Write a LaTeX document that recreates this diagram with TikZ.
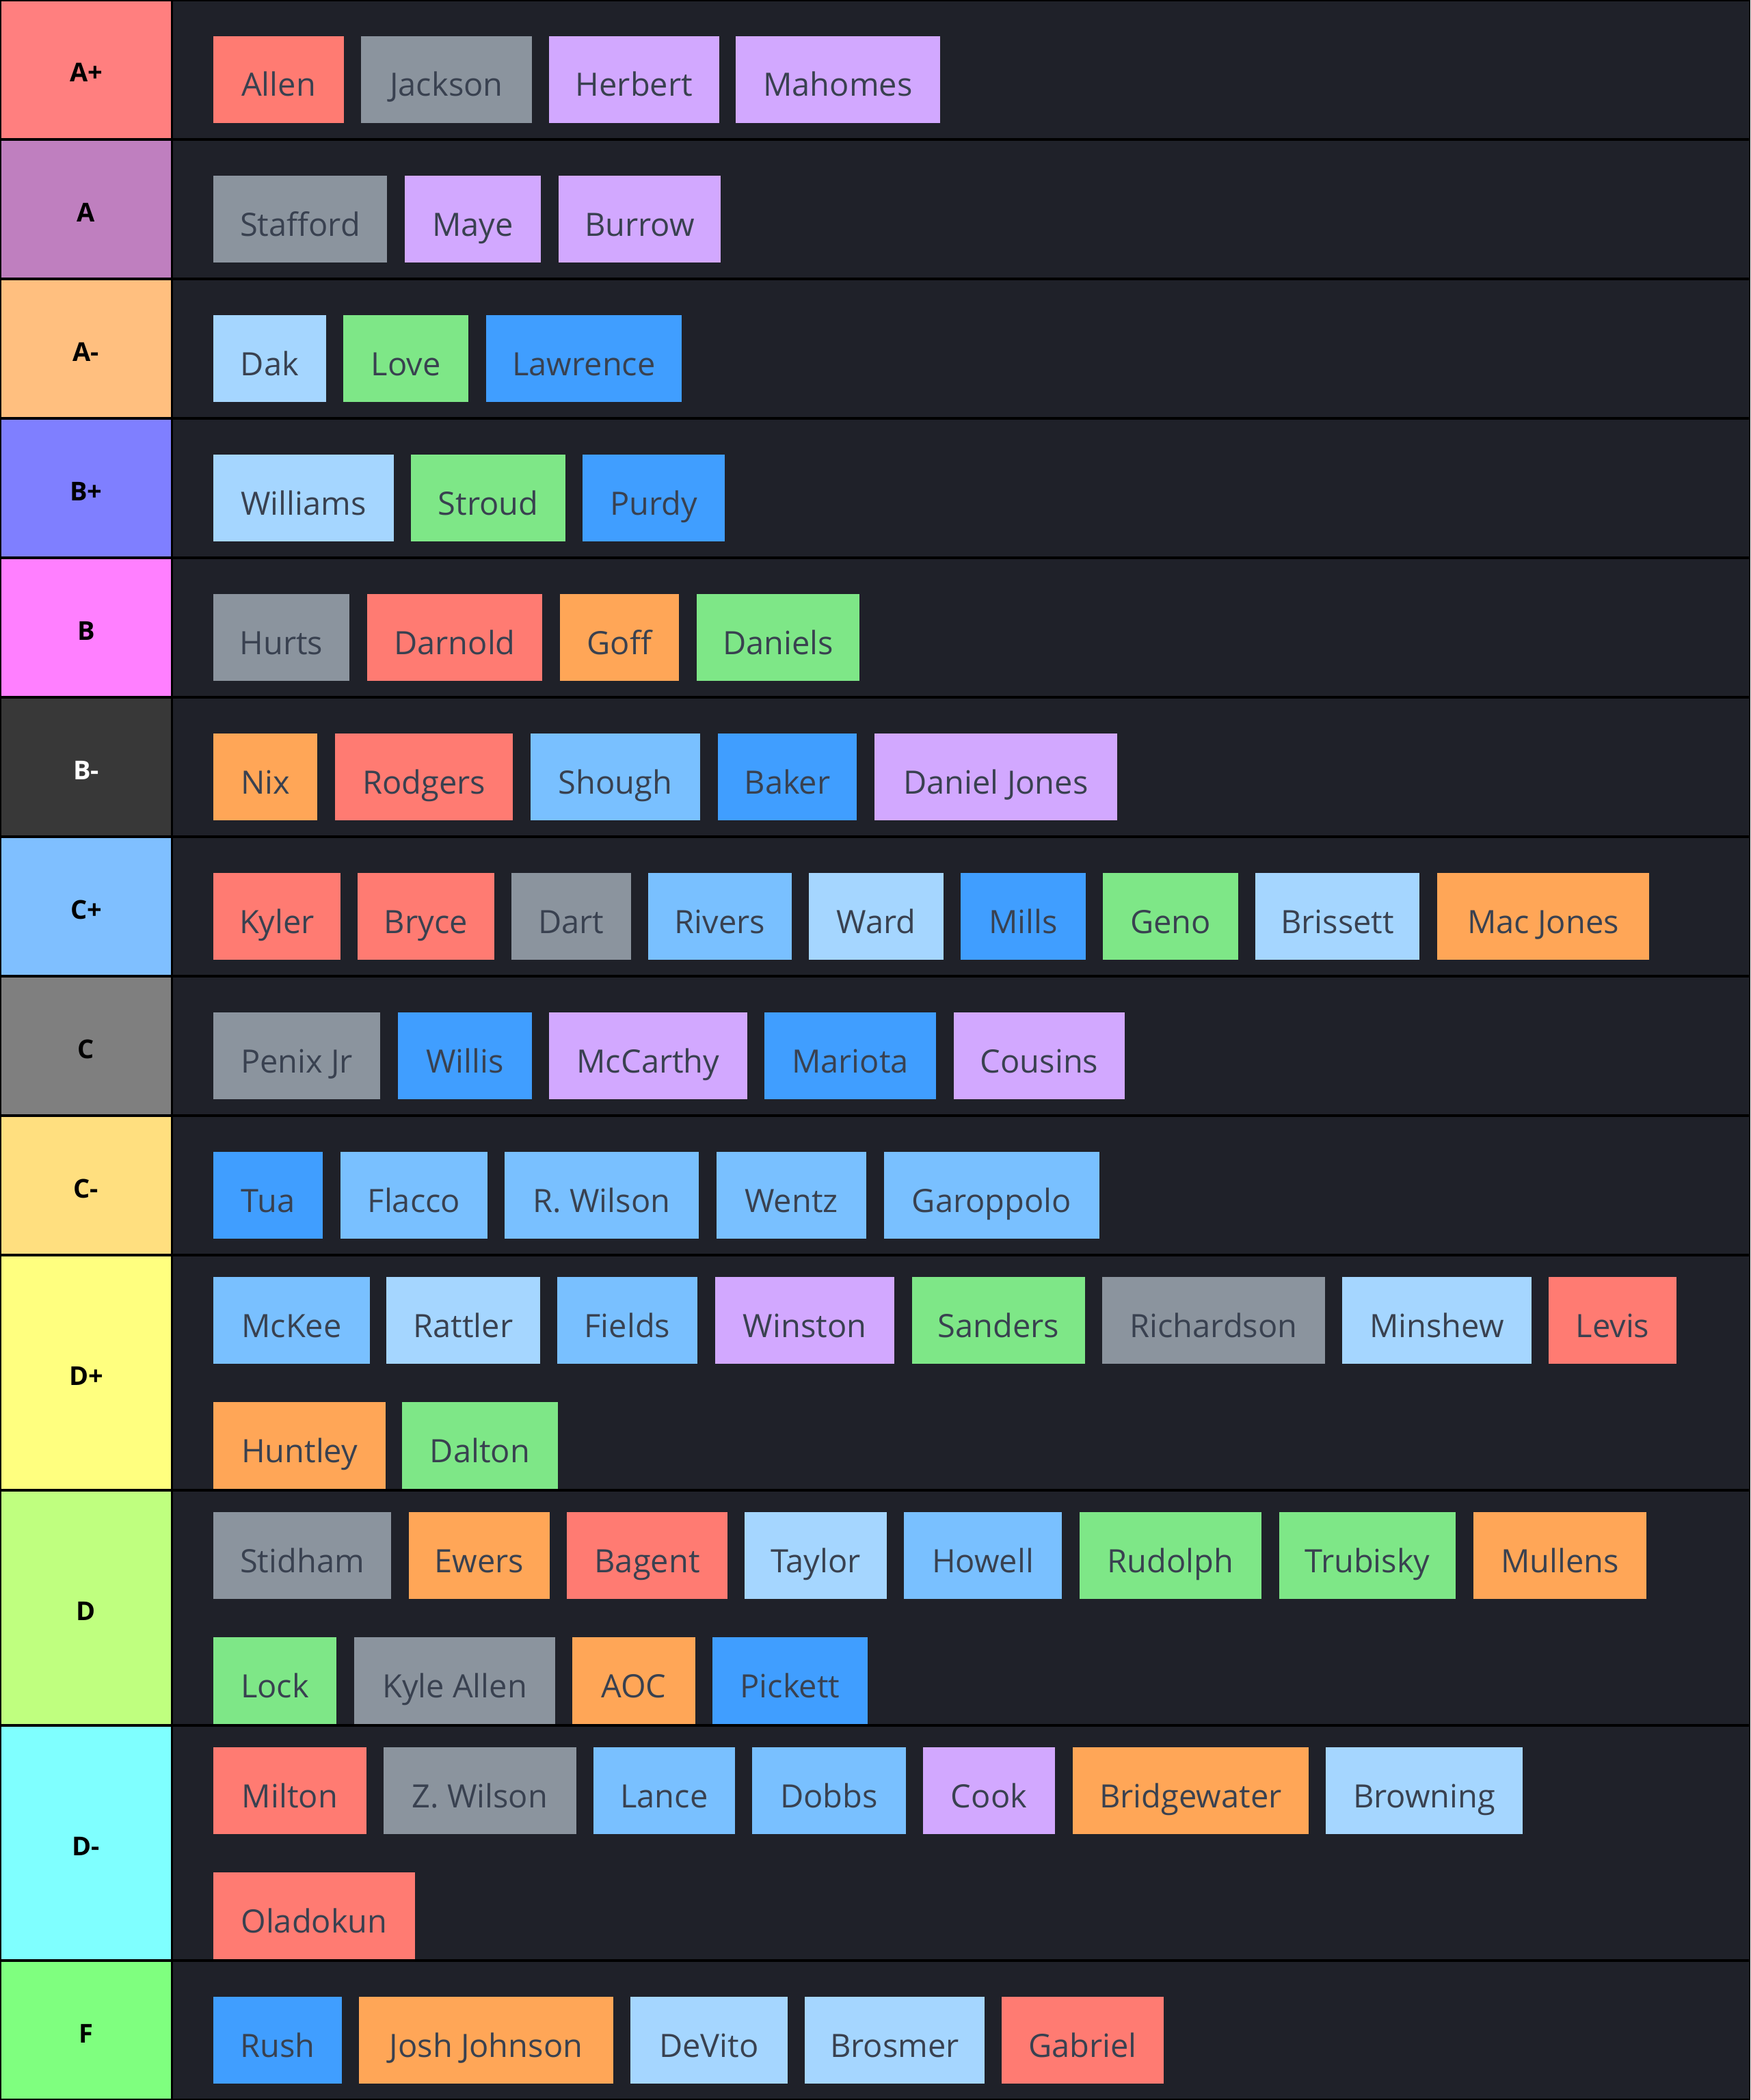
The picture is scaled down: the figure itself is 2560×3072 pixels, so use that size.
\documentclass[tikz,border=0pt]{standalone}
\usepackage{fontspec}
\setmainfont{Open Sans}
\newfontfamily\chipfamily{Open Sans}
\newfontfamily\labfamily{Open Sans}
\definecolor{bgdark}{HTML}{1F2129}
\definecolor{chiptxt}{HTML}{394150}
\definecolor{cred}{HTML}{FF7B72}
\definecolor{cgray}{HTML}{8B949E}
\definecolor{clav}{HTML}{D2A8FF}
\definecolor{clb}{HTML}{A5D6FF}
\definecolor{cmb}{HTML}{79C0FF}
\definecolor{cblue}{HTML}{409EFF}
\definecolor{cgreen}{HTML}{7EE787}
\definecolor{corange}{HTML}{FFA657}
\definecolor{lApl}{HTML}{FF7F7F}
\definecolor{lA}{HTML}{BF7FBF}
\definecolor{lAmi}{HTML}{FFBF7F}
\definecolor{lBpl}{HTML}{7F7FFF}
\definecolor{lB}{HTML}{FF7FFF}
\definecolor{lBmi}{HTML}{383838}
\definecolor{lCpl}{HTML}{7FBFFF}
\definecolor{lC}{HTML}{7F7F7F}
\definecolor{lCmi}{HTML}{FFDF7F}
\definecolor{lDpl}{HTML}{FFFF7F}
\definecolor{lD}{HTML}{BFFF7F}
\definecolor{lDmi}{HTML}{7FFFFF}
\definecolor{lF}{HTML}{7FFF7F}
\tikzset{
  chipbox/.style={inner sep=0pt, outer sep=0pt, draw=none, minimum height=127pt,
    text height=60pt, text depth=11pt, anchor=north west, text=chiptxt,
    font=\chipfamily\fontsize{47}{56}\selectfont},
  tierlabel/.style={inner sep=0pt, anchor=base,
    font=\labfamily\bfseries\fontsize{38}{46}\selectfont},
}
% name, x1, x2, top, colour, text
\newcommand{\chip}[6]{%
  \pgfmathsetmacro{\chw}{#3-#2}%
  \node[chipbox, fill=#5, minimum width=\chw pt] (#1) at (#2,#4) {#6};}
% name, top, height, label colour, label text colour, label
\newcommand{\tierrow}[6]{%
  \pgfmathsetmacro{\rbot}{#2+#3-2}%
  \pgfmathsetmacro{\rtop}{#2+2}%
  \pgfmathsetmacro{\rlab}{#2+#3/2+18}%
  \fill[#4] (2,\rtop) rectangle (250,\rbot);
  \fill[bgdark] (253,\rtop) rectangle (2558,\rbot);
  \node[tierlabel, text=#5] (#1) at (126,\rlab) {#6};}
\begin{document}
\begin{tikzpicture}[x=1pt,y=-1pt]
\fill[black] (0,0) rectangle (2560,3072);
\useasboundingbox (0,0) rectangle (2560,3072);

\tierrow{tApl}{0}{204}{lApl}{black}{A+}
\tierrow{tA}{204}{204}{lA}{black}{A}
\tierrow{tAmi}{408}{204}{lAmi}{black}{A-}
\tierrow{tBpl}{612}{204}{lBpl}{black}{B+}
\tierrow{tB}{816}{204}{lB}{black}{B}
\tierrow{tBmi}{1020}{204}{lBmi}{white}{B-}
\tierrow{tCpl}{1224}{204}{lCpl}{black}{C+}
\tierrow{tC}{1428}{204}{lC}{black}{C}
\tierrow{tCmi}{1632}{204}{lCmi}{black}{C-}
\tierrow{tDpl}{1836}{344}{lDpl}{black}{D+}
\tierrow{tD}{2180}{344}{lD}{black}{D}
\tierrow{tDmi}{2524}{344}{lDmi}{black}{D-}
\tierrow{tF}{2868}{204}{lF}{black}{F}

% A+
\chip{allen}{312}{503}{53}{cred}{Allen}
\chip{jackson}{528}{778}{53}{cgray}{Jackson}
\chip{herbert}{803}{1052}{53}{clav}{Herbert}
\chip{mahomes}{1076}{1375}{53}{clav}{Mahomes}
% A
\chip{stafford}{312}{566}{257}{cgray}{Stafford}
\chip{maye}{592}{791}{257}{clav}{Maye}
\chip{burrow}{817}{1054}{257}{clav}{Burrow}
% A-
\chip{dak}{312}{477}{461}{clb}{Dak}
\chip{love}{502}{685}{461}{cgreen}{Love}
\chip{lawrence}{711}{997}{461}{cblue}{Lawrence}
% B+
\chip{williams}{312}{576}{665}{clb}{Williams}
\chip{stroud}{601}{827}{665}{cgreen}{Stroud}
\chip{purdy}{852}{1060}{665}{cblue}{Purdy}
% B
\chip{hurts}{312}{511}{869}{cgray}{Hurts}
\chip{darnold}{537}{793}{869}{cred}{Darnold}
\chip{goff}{819}{993}{869}{corange}{Goff}
\chip{daniels}{1019}{1257}{869}{cgreen}{Daniels}
% B-
\chip{nix}{312}{464}{1073}{corange}{Nix}
\chip{rodgers}{490}{750}{1073}{cred}{Rodgers}
\chip{shough}{776}{1024}{1073}{cmb}{Shough}
\chip{baker}{1050}{1253}{1073}{cblue}{Baker}
\chip{danieljones}{1279}{1634}{1073}{clav}{Daniel Jones}
% C+
\chip{kyler}{312}{498}{1277}{cred}{Kyler}
\chip{bryce}{523}{723}{1277}{cred}{Bryce}
\chip{dart}{748}{923}{1277}{cgray}{Dart}
\chip{rivers}{948}{1158}{1277}{cmb}{Rivers}
\chip{ward}{1183}{1380}{1277}{clb}{Ward}
\chip{mills}{1405}{1588}{1277}{cblue}{Mills}
\chip{geno}{1613}{1811}{1277}{cgreen}{Geno}
\chip{brissett}{1836}{2076}{1277}{clb}{Brissett}
\chip{macjones}{2102}{2412}{1277}{corange}{Mac Jones}
% C
\chip{penix}{312}{556}{1481}{cgray}{Penix Jr}
\chip{willis}{582}{778}{1481}{cblue}{Willis}
\chip{mccarthy}{803}{1093}{1481}{clav}{McCarthy}
\chip{mariota}{1118}{1369}{1481}{cblue}{Mariota}
\chip{cousins}{1395}{1645}{1481}{clav}{Cousins}
% C-
\chip{tua}{312}{472}{1685}{cblue}{Tua}
\chip{flacco}{498}{713}{1685}{cmb}{Flacco}
\chip{rwilson}{738}{1022}{1685}{cmb}{R. Wilson}
\chip{wentz}{1048}{1267}{1685}{cmb}{Wentz}
\chip{garoppolo}{1293}{1608}{1685}{cmb}{Garoppolo}
% D+
\chip{mckee}{312}{541}{1868}{cmb}{McKee}
\chip{rattler}{565}{790}{1868}{clb}{Rattler}
\chip{fields}{815}{1020}{1868}{cmb}{Fields}
\chip{winston}{1046}{1308}{1868}{clav}{Winston}
\chip{sanders}{1334}{1587}{1868}{cgreen}{Sanders}
\chip{richardson}{1612}{1938}{1868}{cgray}{Richardson}
\chip{minshew}{1963}{2240}{1868}{clb}{Minshew}
\chip{levis}{2265}{2452}{1868}{cred}{Levis}
\chip{huntley}{312}{564}{2051}{corange}{Huntley}
\chip{dalton}{588}{816}{2051}{cgreen}{Dalton}
% D
\chip{stidham}{312}{572}{2212}{cgray}{Stidham}
\chip{ewers}{598}{804}{2212}{corange}{Ewers}
\chip{bagent}{829}{1064}{2212}{cred}{Bagent}
\chip{taylor}{1089}{1297}{2212}{clb}{Taylor}
\chip{howell}{1322}{1553}{2212}{cmb}{Howell}
\chip{rudolph}{1579}{1845}{2212}{cgreen}{Rudolph}
\chip{trubisky}{1871}{2129}{2212}{cgreen}{Trubisky}
\chip{mullens}{2155}{2408}{2212}{corange}{Mullens}
\chip{lock}{312}{492}{2395}{cgreen}{Lock}
\chip{kyleallen}{518}{812}{2395}{cgray}{Kyle Allen}
\chip{aoc}{837}{1017}{2395}{corange}{AOC}
\chip{pickett}{1042}{1269}{2395}{cblue}{Pickett}
% D-
\chip{milton}{312}{536}{2556}{cred}{Milton}
\chip{zwilson}{561}{843}{2556}{cgray}{Z. Wilson}
\chip{lance}{868}{1075}{2556}{cmb}{Lance}
\chip{dobbs}{1100}{1325}{2556}{cmb}{Dobbs}
\chip{cook}{1350}{1543}{2556}{clav}{Cook}
\chip{bridgewater}{1569}{1914}{2556}{corange}{Bridgewater}
\chip{browning}{1939}{2227}{2556}{clb}{Browning}
\chip{oladokun}{312}{607}{2739}{cred}{Oladokun}
% F
\chip{rush}{312}{500}{2921}{cblue}{Rush}
\chip{joshjohnson}{525}{897}{2921}{corange}{Josh Johnson}
\chip{devito}{922}{1152}{2921}{clb}{DeVito}
\chip{brosmer}{1177}{1440}{2921}{clb}{Brosmer}
\chip{gabriel}{1465}{1702}{2921}{cred}{Gabriel}
\end{tikzpicture}
\end{document}
